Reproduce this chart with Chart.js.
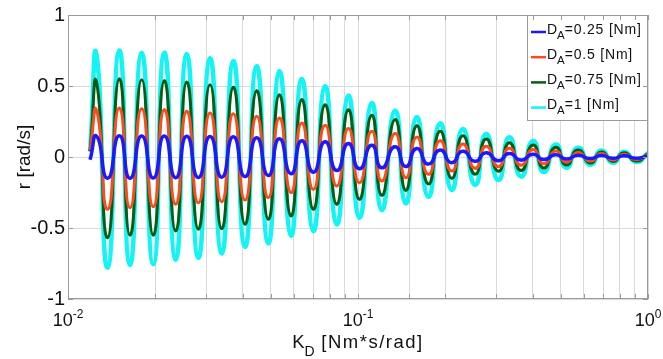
<!DOCTYPE html>
<html>
<head>
<meta charset="utf-8">
<script src="https://cdn.jsdelivr.net/npm/chart.js@4.4.0/dist/chart.umd.min.js"></script>
<style>
  html, body { margin: 0; padding: 0; background: #fff; }
</style>
</head>
<body>
<canvas id="chart" width="663" height="359"></canvas>
<script>
// K_D sample positions (start, then alternating peak / trough)
const kd = [0.01191, 0.01256, 0.01370, 0.01503, 0.01636, 0.01795, 0.01968, 0.02148, 0.02351, 0.02567,
  0.02814, 0.03088, 0.03388, 0.03715, 0.04076, 0.04472, 0.04904, 0.05354, 0.05874, 0.06395,
  0.07013, 0.07694, 0.08443, 0.09259, 0.10104, 0.11150, 0.12070, 0.13414, 0.14605, 0.15935,
  0.17474, 0.19176, 0.21033, 0.22967, 0.25323, 0.27635, 0.30463, 0.33241, 0.36481, 0.40125,
  0.43690, 0.48051, 0.52271, 0.57349, 0.63243, 0.69017, 0.75745, 0.82655, 0.91128, 1.0];

// r [rad/s] for each D_A
const rA025 = [-0.02, 0.145, -0.15, 0.15, -0.15, 0.148, -0.148, 0.148, -0.146, 0.146, -0.144, 0.144, -0.142,
  0.142, -0.138, 0.135, -0.13, 0.128, -0.118, 0.115, -0.107, 0.107, -0.095, 0.095, -0.083, 0.083, -0.076,
  0.072, -0.067, 0.06, -0.05, 0.05, -0.04, 0.04, -0.03, 0.03, -0.026, 0.025, -0.022, 0.02, -0.018,
  0.016, -0.014, 0.012, -0.011, 0.01, -0.009, 0.008, -0.008, 0.007];
const rA05 = [0.05, 0.325, -0.368, 0.345, -0.357, 0.34, -0.35, 0.333, -0.333, 0.322, -0.322, 0.31, -0.315,
  0.305, -0.303, 0.287, -0.287, 0.275, -0.251, 0.239, -0.228, 0.223, -0.204, 0.2, -0.181, 0.181, -0.169,
  0.165, -0.146, 0.14, -0.122, 0.115, -0.099, 0.092, -0.08, 0.075, -0.068, 0.062, -0.058, 0.052, -0.048,
  0.042, -0.036, 0.032, -0.028, 0.024, -0.021, 0.02, -0.018, 0.016];
const rA075 = [0.04, 0.52, -0.568, 0.551, -0.551, 0.544, -0.551, 0.537, -0.521, 0.528, -0.509, 0.509, -0.505,
  0.491, -0.474, 0.467, -0.439, 0.439, -0.415, 0.404, -0.368, 0.368, -0.333, 0.333, -0.298, 0.294, -0.27,
  0.263, -0.235, 0.22, -0.19, 0.181, -0.15, 0.15, -0.122, 0.127, -0.1, 0.1, -0.095, 0.085, -0.078,
  0.068, -0.056, 0.05, -0.042, 0.035, -0.032, 0.03, -0.028, 0.025];
const rA1 = [0.04, 0.71, -0.78, 0.75, -0.76, 0.735, -0.755, 0.735, -0.725, 0.725, -0.71, 0.695, -0.68,
  0.675, -0.632, 0.639, -0.608, 0.604, -0.554, 0.549, -0.521, 0.498, -0.474, 0.432, -0.427, 0.38, -0.373,
  0.326, -0.326, 0.28, -0.28, 0.237, -0.232, 0.197, -0.197, 0.162, -0.162, 0.139, -0.138, 0.113, -0.106,
  0.088, -0.075, 0.065, -0.055, 0.045, -0.042, 0.037, -0.035, 0.03];

const legendValues = ['0.25', '0.5', '0.75', '1'];
const yTicks = [-1, -0.5, 0, 0.5, 1];
const xDecades = [0.01, 0.1, 1];
const xExponents = ['-2', '-1', '0'];

const FONT = '"Liberation Sans", Arial, Helvetica, sans-serif';
const TEXT = '#111';
const FRAME = '#9a9a9a';

function toPoints(ys) {
  return kd.map((k, i) => ({ x: k, y: ys[i] }));
}

// text with a subscript part: main, sub, rest
function subText(ctx, x, y, main, sub, rest, size, subSize, drop, spacing) {
  ctx.letterSpacing = '0px';
  ctx.font = size + 'px ' + FONT;
  ctx.fillText(main, x, y);
  x += ctx.measureText(main).width;
  ctx.font = subSize + 'px ' + FONT;
  ctx.fillText(sub, x, y + drop);
  x += ctx.measureText(sub).width;
  ctx.font = size + 'px ' + FONT;
  ctx.letterSpacing = spacing;
  ctx.fillText(rest, x, y);
  ctx.letterSpacing = '0px';
}

function subWidth(ctx, main, sub, rest, size, subSize, spacing) {
  ctx.letterSpacing = '0px';
  ctx.font = size + 'px ' + FONT;
  let w = ctx.measureText(main).width;
  ctx.font = subSize + 'px ' + FONT;
  w += ctx.measureText(sub).width;
  ctx.font = size + 'px ' + FONT;
  ctx.letterSpacing = spacing;
  w += ctx.measureText(rest).width;
  ctx.letterSpacing = '0px';
  return w;
}

const axisFrame = {
  id: 'axisFrame',
  afterDatasetsDraw(chart) {
    const { ctx, chartArea: a, scales: { x, y } } = chart;
    ctx.save();
    ctx.textAlign = 'left';
    ctx.textBaseline = 'alphabetic';

    // legend
    const lw = 120, lh = 105;
    const lx = a.right - lw - 1, ly = a.top;
    ctx.fillStyle = '#fff';
    ctx.fillRect(lx, ly, lw, lh);
    ctx.strokeStyle = FRAME;
    ctx.lineWidth = 1;
    ctx.strokeRect(lx + 0.5, ly + 0.5, lw, lh);
    chart.data.datasets.forEach((ds, i) => {
      const by = ly + 18.5 + 25.2 * i;
      ctx.strokeStyle = ds.borderColor;
      ctx.lineWidth = 2.5;
      ctx.beginPath();
      ctx.moveTo(lx + 4, by - 1.5);
      ctx.lineTo(lx + 19, by - 1.5);
      ctx.stroke();
      ctx.fillStyle = TEXT;
      subText(ctx, lx + 20, by, 'D', 'A', '=' + legendValues[i] + ' [Nm]', 14, 11.5, 5, '0.8px');
    });

    // box and inward ticks
    ctx.strokeStyle = FRAME;
    ctx.lineWidth = 1;
    ctx.strokeRect(a.left + 0.5, a.top + 0.5, a.right - a.left - 1, a.bottom - a.top - 1);
    ctx.beginPath();
    x.ticks.forEach(t => {
      const px = Math.round(x.getPixelForValue(t.value)) + 0.5;
      ctx.moveTo(px, a.bottom); ctx.lineTo(px, a.bottom - 5);
      ctx.moveTo(px, a.top); ctx.lineTo(px, a.top + 5);
    });
    yTicks.forEach(v => {
      const py = Math.round(y.getPixelForValue(v)) + 0.5;
      ctx.moveTo(a.left, py); ctx.lineTo(a.left + 5, py);
      ctx.moveTo(a.right, py); ctx.lineTo(a.right - 5, py);
    });
    ctx.stroke();

    // x tick labels 10^n
    ctx.fillStyle = TEXT;
    xDecades.forEach((v, i) => {
      const px = x.getPixelForValue(v);
      ctx.font = '18px ' + FONT;
      const w1 = ctx.measureText('10').width;
      ctx.font = '12px ' + FONT;
      const w2 = ctx.measureText(xExponents[i]).width;
      const sx = px - (w1 + w2) / 2;
      ctx.font = '18px ' + FONT;
      ctx.fillText('10', sx, a.bottom + 26.5);
      ctx.font = '12px ' + FONT;
      ctx.fillText(xExponents[i], sx + w1, a.bottom + 18.5);
    });

    // x title K_D [Nm*s/rad]
    const tw = subWidth(ctx, 'K', 'D', ' [Nm*s/rad]', 18.5, 14, '1.5px');
    const cx = (a.left + a.right) / 2;
    subText(ctx, cx - tw / 2, a.bottom + 48.7, 'K', 'D', ' [Nm*s/rad]', 18.5, 14, 8, '1.5px');
    ctx.restore();
  }
};

new Chart(document.getElementById('chart'), {
  type: 'line',
  data: {
    datasets: [
      { label: 'D_A=0.25 [Nm]', data: toPoints(rA025), borderColor: '#1a1aff', borderWidth: 3.5 },
      { label: 'D_A=0.5 [Nm]', data: toPoints(rA05), borderColor: '#ff4a1c', borderWidth: 3 },
      { label: 'D_A=0.75 [Nm]', data: toPoints(rA075), borderColor: '#0b5a12', borderWidth: 3 },
      { label: 'D_A=1 [Nm]', data: toPoints(rA1), borderColor: '#14f4f4', borderWidth: 4.5 }
    ].map(ds => Object.assign(ds, { pointRadius: 0, fill: false, tension: 0.65 }))
  },
  options: {
    responsive: false,
    devicePixelRatio: 1,
    animation: false,
    layout: { padding: { left: 0, right: 15, top: 13, bottom: 0 } },
    plugins: { legend: { display: false }, tooltip: { enabled: false } },
    scales: {
      x: {
        type: 'logarithmic',
        min: 0.01,
        max: 1,
        grid: { color: '#dadada', drawTicks: false },
        border: { display: false },
        ticks: { display: false },
        afterFit(s) { s.height = 60; }
      },
      y: {
        min: -1,
        max: 1,
        afterBuildTicks(s) { s.ticks = yTicks.map(v => ({ value: v })); },
        grid: { color: '#dadada', drawTicks: false },
        border: { display: false },
        ticks: {
          color: TEXT,
          padding: 3,
          font: { family: FONT, size: 20 },
          callback: v => String(v)
        },
        title: {
          display: true,
          text: 'r [rad/s]',
          color: TEXT,
          font: { family: FONT, size: 19 },
          padding: { top: 13, bottom: 0 }
        },
        afterFit(s) { s.width = 68; }
      }
    }
  },
  plugins: [axisFrame]
});
</script>
</body>
</html>
